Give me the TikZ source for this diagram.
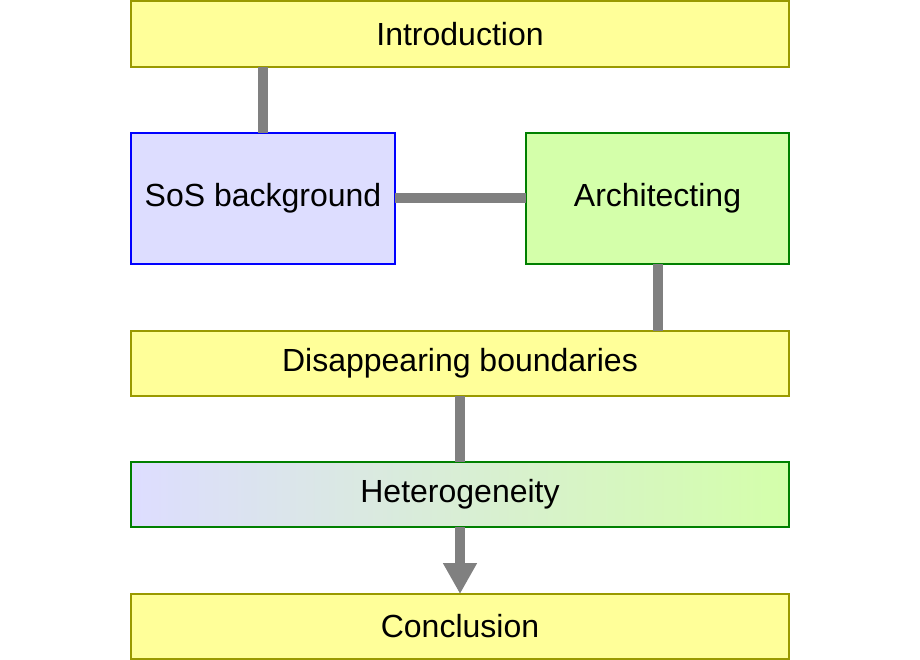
\documentclass[tikz,border=0pt]{standalone}
\usepackage{fontspec}
\setmainfont{Liberation Sans}
\usetikzlibrary{arrows.meta}
\definecolor{yfill}{HTML}{FFFF99}
\definecolor{ydraw}{HTML}{999900}
\definecolor{bfill}{HTML}{DDDDFF}
\definecolor{bdraw}{HTML}{0000FF}
\definecolor{gfill}{HTML}{D4FFAA}
\definecolor{gdraw}{HTML}{008000}
\definecolor{conn}{HTML}{808080}
\tikzset{
  box/.style={rectangle, inner sep=0pt, outer sep=0pt, line width=1.3pt, font=\fontsize{32}{38}\selectfont},
  ybox/.style={box, fill=yfill, draw=ydraw},
  bbox/.style={box, fill=bfill, draw=bdraw},
  gbox/.style={box, fill=gfill, draw=gdraw},
  hbox/.style={box, left color=bfill, right color=gfill, draw=gdraw},
  link/.style={draw=conn, line width=10pt},
  arrowlink/.style={link, -{Triangle[width=32pt,length=31pt]}, conn}
}
\begin{document}
\begin{tikzpicture}[x=1pt,y=-1pt]
\useasboundingbox (0,0) rectangle (920,660);
\node[ybox, minimum width=658pt, minimum height=66pt] (intro) at (460,34) {Introduction};
\node[bbox, minimum width=264pt, minimum height=131pt] (sos) at (263,198.5) {SoS background};
\node[gbox, minimum width=263pt, minimum height=131pt] (arch) at (657.5,198.5) {Architecting};
\node[ybox, minimum width=658pt, minimum height=65pt] (dis) at (460,363.5) {Disappearing boundaries};
\node[hbox, minimum width=658pt, minimum height=65pt] (het) at (460,494.5) {Heterogeneity};
\node[ybox, minimum width=658pt, minimum height=65pt] (concl) at (460,626.5) {Conclusion};
\draw[link] (sos.north) -- (sos.north |- intro.south);
\draw[link] (sos.east) -- (arch.west);
\draw[link] (arch.south) -- (arch.south |- dis.north);
\draw[link] (dis.south) -- (het.north);
\draw[arrowlink] (het.south) -- (concl.north);
\end{tikzpicture}
\end{document}
